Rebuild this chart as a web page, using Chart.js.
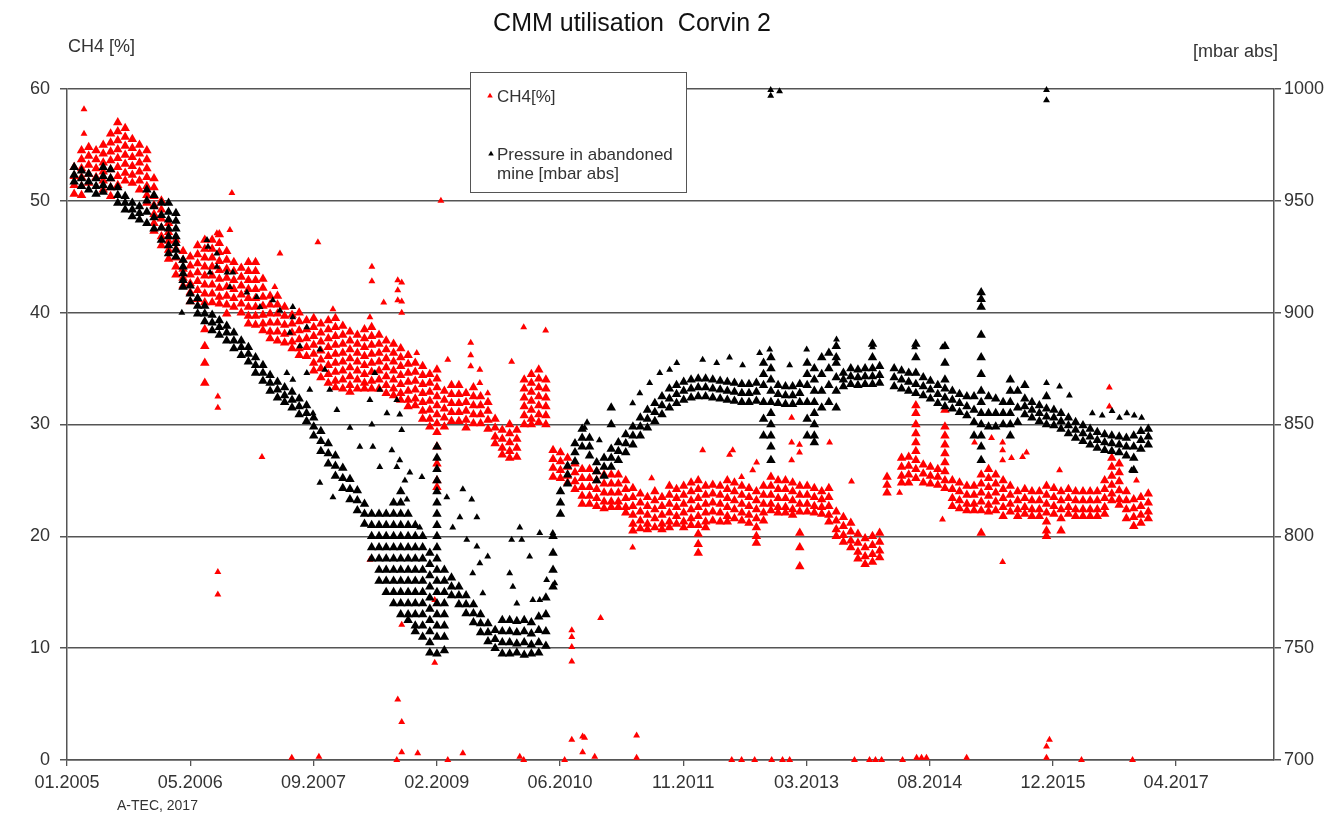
<!DOCTYPE html>
<html>
<head>
<meta charset="utf-8">
<script src="https://cdn.jsdelivr.net/npm/chart.js@4"></script>
<style>
  html, body { margin: 0; padding: 0; background: #fff; }
  #wrap { width: 1326px; height: 826px; position: relative; }
</style>
</head>
<body>
<div id="wrap"><canvas id="chart"></canvas></div>
<script>
// CMM utilisation Corvin 2 — CH4 content and mine pressure.
// x values are days counted from 01.01.2005; each column entry is [day, value, value, ...]

const TITLE = 'CMM utilisation  Corvin 2';
const LEFT_AXIS_TITLE = 'CH4 [%]';
const RIGHT_AXIS_TITLE = '[mbar abs]';
const FOOTER = 'A-TEC, 2017';
const CH4_LABEL = 'CH4[%]';
const PRESSURE_LABEL = ['Pressure in abandoned', 'mine [mbar abs]'];

const xTickDays = [0, 500, 1000, 1500, 2000, 2500, 3000, 3500, 4000, 4500];
const xMaxDay = 4897;
const ch4Ticks = [0, 10, 20, 30, 40, 50, 60];
const pressureTicks = [700, 750, 800, 850, 900, 950, 1000];

// CH4 [%] band, 2005 - early 2009
const ch4Columns2005 = [
  [29, 53, 52.2, 51.4, 50.6], [59, 54.5, 53.7, 52.9, 52.1, 51.3, 50.5], [88, 54.8, 54, 53.2, 52.4, 51.6],
  [118, 54.5, 53.7, 52.9, 52.1], [147, 55, 54.2, 53.4, 52.6, 51.8, 51],
  [177, 56, 55.2, 54.4, 53.6, 52.8, 52, 51.2, 50.4], [206, 57, 56.2, 55.4, 54.6, 53.8, 53, 52.2, 51.4],
  [236, 56.5, 55.7, 54.9, 54.1, 53.3, 52.5, 51.8], [265, 55.5, 54.7, 53.9, 53.1, 52.3, 51.6],
  [294, 55, 54.2, 53.4, 52.6, 51.8, 51], [324, 54.5, 53.7, 52.9, 52.1, 51.3, 50.5, 49.8],
  [353, 52, 51.2, 50.4, 49.6, 48.8, 48, 47.3], [383, 50, 49.2, 48.4, 47.6, 46.8, 46],
  [412, 48, 47.2, 46.4, 45.6, 44.8], [442, 46.5, 45.7, 44.9, 44.1, 43.4], [471, 45.5, 44.7, 43.9, 43.1, 42.4],
  [500, 45, 44.2, 43.4, 42.6, 41.8, 41], [530, 46, 45.2, 44.4, 43.6, 42.8, 42, 41.2],
  [559, 46.5, 45.7, 44.9, 44.1, 43.3, 42.5, 41.7, 40.9, 38.5, 37, 35.5, 33.7],
  [589, 46.5, 45.7, 44.9, 44.1, 43.3, 42.5, 41.7, 40.9], [618, 47, 46.2, 45.4, 44.6, 43.8, 43, 42.2, 41.4, 40.8],
  [648, 45.5, 44.7, 43.9, 43.1, 42.3, 41.5, 40.7, 39.9], [677, 44.5, 43.7, 42.9, 42.1, 41.3, 40.5],
  [707, 44, 43.2, 42.4, 41.6, 40.8, 40], [736, 44.5, 43.7, 42.9, 42.1, 41.3, 40.5, 39.7, 39],
  [765, 44.5, 43.7, 42.9, 42.1, 41.3, 40.5, 39.7, 38.9], [795, 43, 42.2, 41.4, 40.6, 39.8, 39, 38.4],
  [824, 41.5, 40.7, 39.9, 39.1, 38.3, 37.7], [854, 41.5, 40.7, 39.9, 39.1, 38.3, 37.5],
  [883, 40.5, 39.7, 38.9, 38.1, 37.3], [913, 39.8, 39, 38.2, 37.4, 36.8], [942, 40, 39.2, 38.4, 37.6, 36.8, 36.2],
  [972, 39.3, 38.5, 37.7, 36.9, 36.1], [1001, 39.5, 38.7, 37.9, 37.1, 36.3, 35.5, 34.8],
  [1030, 39, 38.2, 37.4, 36.6, 35.8, 35, 34.2], [1060, 39.3, 38.5, 37.7, 36.9, 36.1, 35.3, 34.5, 33.7],
  [1089, 39.5, 38.7, 37.9, 37.1, 36.3, 35.5, 34.7, 33.9, 33.3], [1119, 38.8, 38, 37.2, 36.4, 35.6, 34.8, 34, 33.2],
  [1148, 38.3, 37.5, 36.7, 35.9, 35.1, 34.3, 33.5, 32.9], [1178, 38, 37.2, 36.4, 35.6, 34.8, 34, 33.2],
  [1207, 38.5, 37.7, 36.9, 36.1, 35.3, 34.5, 33.7, 33.2], [1236, 38.7, 37.9, 37.1, 36.3, 35.5, 34.7, 33.9, 33.2],
  [1266, 38, 37.2, 36.4, 35.6, 34.8, 34, 33.2], [1295, 37.5, 36.7, 35.9, 35.1, 34.3, 33.5, 32.8],
  [1325, 37.2, 36.4, 35.6, 34.8, 34, 33.2, 32.6], [1354, 36.8, 36, 35.2, 34.4, 33.6, 32.8, 32.2],
  [1384, 36.2, 35.4, 34.6, 33.8, 33, 32.2, 31.6], [1413, 35.5, 34.7, 33.9, 33.1, 32.3, 31.7],
  [1443, 35.2, 34.4, 33.6, 32.8, 32, 31.2, 30.5], [1472, 34.5, 33.7, 32.9, 32.1, 31.3, 30.5, 29.8],
  [1501, 34.9, 34.1, 33.3, 32.5, 31.7, 30.9, 30.1, 29.3, 28, 26.5, 25, 24.4]
];

// CH4 [%] band, 2009 - early 2013
const ch4Columns2009 = [
  [1531, 33, 32.2, 31.4, 30.6, 29.8], [1560, 33.5, 32.7, 31.9, 31.1, 30.3], [1590, 33.5, 32.7, 31.9, 31.1, 30.3],
  [1619, 32.8, 32, 31.2, 30.4, 29.7], [1649, 33.3, 32.5, 31.7, 30.9, 30.1], [1678, 32.5, 31.7, 30.9, 30.1],
  [1708, 32, 31.2, 30.4, 29.6], [1737, 30.5, 29.7, 28.9, 28.3], [1766, 29.5, 28.7, 27.9, 27.3],
  [1796, 30, 29.2, 28.4, 27.6, 27], [1825, 29.5, 28.7, 27.9, 27.1], [1855, 34, 33.2, 32.4, 31.6, 30.8, 30],
  [1884, 34.5, 33.7, 32.9, 32.1, 31.3, 30.5, 30], [1914, 34.9, 34.1, 33.3, 32.5, 31.7, 30.9, 30.2],
  [1943, 34, 33.2, 32.4, 31.6, 30.8, 30], [1972, 27.7, 26.9, 26.1, 25.3], [2002, 27.5, 26.7, 25.9, 25.2],
  [2031, 27, 26.2, 25.4, 24.8], [2061, 26.5, 25.7, 24.9, 24.2], [2090, 26, 25.2, 24.4, 23.6, 22.9],
  [2120, 26, 25.2, 24.4, 23.6, 22.9], [2149, 25.8, 25, 24.2, 23.4, 22.7], [2179, 25.5, 24.7, 23.9, 23.1, 22.5],
  [2208, 25.5, 24.7, 23.9, 23.1, 22.6], [2237, 25.5, 24.7, 23.9, 23.1, 22.6], [2267, 25, 24.2, 23.4, 22.6, 22.1],
  [2296, 24.3, 23.5, 22.7, 21.9, 21.1, 20.5], [2326, 23.8, 23, 22.2, 21.4, 20.7], [2355, 23.5, 22.7, 21.9, 21.1, 20.6],
  [2385, 24, 23.2, 22.4, 21.6, 20.8], [2414, 23.5, 22.7, 21.9, 21.1, 20.6], [2444, 24.5, 23.7, 22.9, 22.1, 21.3, 20.8],
  [2473, 24.2, 23.4, 22.6, 21.8, 21.1], [2502, 24.5, 23.7, 22.9, 22.1, 21.3, 20.8], [2532, 24.8, 24, 23.2, 22.4, 21.6, 21],
  [2561, 25, 24.2, 23.4, 22.6, 21.8, 21, 20.2, 19.3, 18.5], [2591, 24.5, 23.7, 22.9, 22.1, 21.3, 20.8],
  [2620, 24.6, 23.8, 23, 22.2, 21.4], [2650, 24.5, 23.7, 22.9, 22.1, 21.3], [2679, 25, 24.2, 23.4, 22.6, 21.8, 21.3],
  [2708, 24.8, 24, 23.2, 22.4, 21.6], [2738, 24.5, 23.7, 22.9, 22.1, 21.4], [2767, 24.3, 23.5, 22.7, 21.9, 21.2],
  [2797, 24, 23.2, 22.4, 21.6, 20.8, 20, 19.4], [2826, 24.5, 23.7, 22.9, 22.1, 21.4], [2856, 25.3, 24.5, 23.7, 22.9, 22.3],
  [2885, 25, 24.2, 23.4, 22.6, 22.1], [2915, 25, 24.2, 23.4, 22.6, 22.1], [2944, 24.8, 24, 23.2, 22.4, 21.9]
];

// CH4 [%] band, 2013 - 2017
const ch4Columns2013 = [
  [2973, 24.5, 23.7, 22.9, 22.2, 20.3, 19, 17.3], [3003, 24.5, 23.7, 22.9, 22.2], [3032, 24.3, 23.5, 22.7, 22.1],
  [3062, 24, 23.3, 22.6, 22], [3091, 24.3, 23.5, 22.7, 21.9, 21.3], [3121, 22.2, 21.4, 20.6, 20],
  [3150, 21.7, 20.9, 20.1, 19.5], [3180, 21.2, 20.4, 19.6, 19], [3209, 20.2, 19.4, 18.6, 18],
  [3238, 19.8, 19, 18.2, 17.5], [3268, 20, 19.2, 18.4, 17.7], [3297, 20.3, 19.5, 18.7, 18.1],
  [3327, 25.3, 24.6, 23.9], [3386, 27, 26.2, 25.4, 24.8], [3415, 27.1, 26.3, 25.5, 24.8],
  [3444, 31.7, 31, 30, 29.2, 28.4, 27.6, 26.8, 26, 25.2], [3474, 26.4, 25.6, 24.8], [3503, 26.2, 25.4, 24.7],
  [3533, 26, 25.3, 24.6], [3562, 31.3, 29.8, 29, 28.2, 27.4, 26.6, 25.8, 25, 24.3], [3592, 25, 24.2, 23.4, 22.7],
  [3621, 24.8, 24, 23.2, 22.5], [3651, 24.5, 23.7, 22.9, 22.3], [3680, 24.5, 23.7, 22.9, 22.3],
  [3709, 25.5, 24.7, 23.9, 23.1, 22.3, 20.3], [3739, 26, 25.2, 24.4, 23.6, 22.8, 22.2], [3768, 25.5, 24.7, 23.9, 23.1, 22.3],
  [3798, 25, 24.2, 23.4, 22.6, 21.8], [3827, 24.5, 23.7, 22.9, 22.2], [3857, 24, 23.2, 22.4, 21.8],
  [3886, 24.2, 23.4, 22.6, 22], [3915, 24, 23.2, 22.4, 21.8], [3945, 24, 23.2, 22.4, 21.8],
  [3974, 24.5, 23.7, 22.9, 22.1, 21.3, 20.5, 20], [4004, 24.3, 23.5, 22.7, 22], [4033, 24, 23.2, 22.4, 21.6, 20.5],
  [4063, 24.2, 23.4, 22.6, 22], [4092, 24, 23.2, 22.4, 21.8], [4122, 24, 23.2, 22.4, 21.8],
  [4151, 24, 23.2, 22.4, 21.8], [4180, 24, 23.2, 22.4, 21.8], [4210, 25, 24.2, 23.4, 22.6, 22],
  [4239, 27, 26.2, 25.4, 24.6, 23.8, 23.2], [4269, 26.5, 25.7, 24.9, 24.1, 23.3, 22.8], [4298, 24, 23.2, 22.4, 21.6],
  [4328, 23.3, 22.5, 21.7, 20.9], [4357, 23.5, 22.7, 21.9, 21.2], [4387, 23.8, 23, 22.2, 21.6]
];

// isolated CH4 readings (spikes, drop-outs, zero readings)
const ch4Outliers = [
  [69, 58.2], [69, 56], [669, 50.7], [661, 47.4], [608, 47.1], [612, 32.5], [612, 31.5],
  [612, 16.8], [612, 14.8], [791, 27.1], [843, 42.3], [864, 45.3], [912, 0.2], [1018, 46.3],
  [1022, 0.3], [1079, 40.3], [1229, 39.6], [1229, 17.9], [1237, 44.1], [1237, 42.8], [1285, 40.9],
  [1338, 0], [1342, 42.9], [1342, 42], [1342, 41.1], [1342, 5.4], [1358, 42.7], [1358, 41],
  [1358, 40], [1358, 12.1], [1358, 3.4], [1358, 0.7], [1419, 36.4], [1423, 0.6], [1492, 14.3],
  [1492, 8.7], [1517, 50], [1545, 35.8], [1545, 0], [1606, 0.6], [1638, 37.3], [1638, 36.2],
  [1638, 35.2], [1675, 34.9], [1675, 33.7], [1707, 32.8], [1804, 35.6], [1837, 0.3], [1853, 38.7],
  [1853, 0], [1942, 38.4], [2019, 0], [2048, 11.6], [2048, 11], [2048, 10.1], [2048, 8.8],
  [2048, 1.8], [2092, 2.1], [2092, 0.7], [2100, 2], [2141, 0.3], [2165, 12.7], [2295, 19],
  [2311, 2.2], [2311, 0.2], [2372, 25.2], [2579, 27.7], [2688, 27.3], [2697, 0], [2701, 27.7],
  [2737, 25.3], [2737, 0], [2782, 25.9], [2790, 0], [2798, 26.6], [2859, 0], [2903, 0], [2932, 0],
  [2940, 30.6], [2940, 28.4], [2940, 26.8], [2972, 28.2], [2972, 27.5], [3094, 28.4], [3183, 24.9],
  [3195, 0], [3256, 0], [3280, 0], [3305, 0], [3378, 23.9], [3390, 0], [3447, 0.2], [3467, 0.2],
  [3487, 0.2], [3552, 21.5], [3650, 0.2], [3682, 28.4], [3751, 28.8], [3796, 28.4], [3796, 27.7],
  [3796, 26.8], [3796, 17.7], [3832, 27], [3877, 27.1], [3893, 27.5], [3974, 0.2], [3974, 1.2],
  [3986, 1.8], [4027, 25.9], [4116, 0], [4229, 33.3], [4229, 31.6], [4323, 0], [4339, 25]
];

// pressure in abandoned mine [mbar abs], 2005 - early 2009
const pressureColumns2005 = [
  [29, 965, 961.5, 958.5], [59, 963.5, 960, 956.5], [88, 962, 958.5, 955], [118, 960, 956.5, 953],
  [147, 965, 961, 957, 954], [177, 964, 960, 956], [206, 956, 952.5, 949], [236, 952, 949, 946],
  [265, 949, 946, 943], [294, 947.5, 944.5, 941.5], [324, 955, 950, 945, 940],
  [353, 952.5, 947.5, 942.5, 937.5], [383, 949, 943.5, 938, 932.5], [412, 949, 945, 941.5, 937.5, 934, 930, 926.5],
  [442, 944.5, 941, 937.5, 934, 931, 928, 925], [471, 923.5, 920.5, 917.5, 914.5, 911.5], [500, 912, 908.5, 905],
  [530, 906.5, 903, 899.5], [559, 903, 899.5, 896], [589, 899, 895.5, 892], [618, 896.5, 893.5, 890],
  [648, 894, 891, 887.5], [677, 891, 887.5, 884], [707, 887.5, 884.5, 881], [736, 884.5, 881.5, 878],
  [765, 880, 876.5, 873], [795, 876.5, 873, 869.5], [824, 872, 868.5, 865], [854, 869, 865.5, 862],
  [883, 866.5, 863, 860], [913, 864.5, 861, 857.5], [942, 861.5, 858, 854.5], [972, 858.5, 855, 851.5],
  [1001, 853, 849, 845], [1030, 847, 842.5, 838], [1060, 841.5, 837, 832.5], [1089, 836, 831.5, 827],
  [1119, 830.5, 826, 821.5], [1148, 825.5, 821, 816.5], [1178, 820.5, 816, 811.5],
  [1207, 814.5, 810, 805.5], [1236, 810, 805, 800, 795, 790], [1266, 810, 805, 800, 795, 790, 785, 780],
  [1295, 810, 805, 800, 795, 790, 785, 780, 775], [1325, 815, 810, 805, 800, 795, 790, 785, 780, 775, 770],
  [1354, 820, 815, 810, 805, 800, 795, 790, 785, 780, 775, 770, 765],
  [1384, 810, 805, 800, 795, 790, 785, 780, 775, 770, 765, 762.5],
  [1413, 805, 800, 795, 790, 785, 780, 775, 770, 765, 760, 757.5],
  [1443, 800, 795, 790, 785, 780, 775, 770, 765, 760, 755],
  [1472, 792.5, 787.5, 782.5, 777.5, 772.5, 767.5, 762.5, 757.5, 752.5, 748],
  [1501, 840, 835, 830, 825, 820, 815, 810, 805, 800, 795, 790, 785, 780, 775, 770, 765, 760, 755, 747.5]
];

// pressure in abandoned mine [mbar abs], 2009 - early 2013
const pressureColumns2009 = [
  [1531, 785, 780, 775, 770, 765, 760, 755, 749], [1560, 781.5, 777.5, 773.5], [1590, 777.5, 773.5, 769.5],
  [1619, 773.5, 769.5, 765.5], [1649, 769.5, 765.5, 761.5], [1678, 765, 761, 757], [1708, 761, 757, 753],
  [1737, 758, 754, 750], [1766, 762.5, 757.5, 752.5, 747.5], [1796, 762.5, 757.5, 752.5, 747.5],
  [1825, 762, 757, 752, 748], [1855, 762.5, 757.5, 752.5, 747], [1884, 761.5, 756.5, 751.5, 747.5],
  [1914, 764, 758, 752.5, 748], [1943, 772.5, 765, 757.5, 751], [1972, 800, 792.5, 785, 777.5],
  [2002, 820, 815, 810], [2031, 831.5, 827.5, 823.5], [2061, 841.5, 837.5, 833.5], [2090, 848, 844, 840],
  [2120, 844, 840, 836], [2149, 833, 829, 825], [2179, 835, 831, 827], [2208, 857.5, 850, 839, 835, 831],
  [2237, 842, 838, 834], [2267, 845.5, 841.5, 837.5], [2296, 849, 845, 841], [2326, 853, 849, 845],
  [2355, 856.5, 852.5, 848.5], [2385, 859.5, 855.5, 851.5], [2414, 862.5, 858.5, 854.5],
  [2444, 866, 861.5, 857.5], [2473, 867.5, 863.5, 859.5], [2502, 869, 865, 861], [2532, 870, 866, 862],
  [2561, 870.5, 866.5, 862.5], [2591, 870.5, 866.5, 862.5], [2620, 870, 866, 862],
  [2650, 869.5, 865.5, 861.5], [2679, 869, 865, 861], [2708, 868.5, 864.5, 860.5], [2738, 868, 864, 860],
  [2767, 868, 864, 860], [2797, 868.5, 864.5, 860.5], [2826, 877.5, 872.5, 867.5, 860, 852.5, 845],
  [2856, 880, 875, 870, 865, 860, 855, 850, 845, 840, 834], [2885, 867.5, 863.5, 859.5], [2915, 867, 863, 859],
  [2944, 867, 863, 859]
];

// pressure in abandoned mine [mbar abs], 2013 - 2017
const pressureColumns2013 = [
  [2973, 868, 864, 860], [3003, 877.5, 872.5, 867.5, 860, 852.5, 845], [3032, 875, 870, 865, 860, 855, 850, 845, 842],
  [3062, 880, 872.5, 865, 857.5], [3091, 882, 875, 867.5, 860], [3121, 885, 880, 877.5, 871, 865, 857.5],
  [3150, 873, 870, 867], [3180, 875, 871.5, 868], [3209, 874.5, 871, 867.5], [3238, 875, 871.5, 868],
  [3268, 886, 880, 875, 871.5, 868], [3297, 876, 872, 868.5], [3356, 875, 871, 867], [3386, 874, 870, 866],
  [3415, 873, 869, 865], [3444, 886, 880, 873, 868, 864], [3474, 871, 867, 863],
  [3503, 869.5, 865.5, 861.5], [3533, 867.5, 863.5, 859.5], [3562, 885, 877.5, 870, 866, 862, 858],
  [3592, 865, 861, 857], [3621, 863.5, 859.5, 855.5], [3651, 862.5, 858, 854],
  [3680, 862.5, 856.5, 851, 845], [3709, 909, 906, 902.5, 890, 880, 872.5, 865, 860, 855, 850, 845, 840, 834],
  [3739, 862.5, 855, 849], [3768, 861.5, 855, 849], [3798, 860, 855, 850], [3827, 870, 865, 860, 855, 850, 845],
  [3857, 865, 857.5, 851], [3886, 867.5, 861.5, 858, 854.5], [3915, 860, 856.5, 853],
  [3945, 858.5, 855, 851.5], [3974, 862.5, 857, 853.5, 850], [4004, 856.5, 853, 849.5],
  [4033, 855, 851.5, 848], [4063, 853, 849.5, 846], [4092, 851, 847.5, 844], [4122, 849.5, 846, 842.5],
  [4151, 848, 844.5, 841], [4180, 846.5, 843, 839.5], [4210, 845.5, 842, 838.5], [4239, 845, 841.5, 838],
  [4269, 844.5, 841, 837.5], [4298, 844, 840, 836], [4328, 845, 840, 835, 829.5], [4357, 847, 843, 839],
  [4387, 848, 844.5, 841]
];

// isolated pressure readings (scatter above the trend, spikes, readings near 1000)
const pressureOutliers = [
  [466, 900], [568, 932.5], [572, 929.5], [580, 918], [608, 926.5], [608, 920.5], [649, 918],
  [661, 911.5], [673, 918], [730, 909], [770, 907], [783, 902.5], [835, 905.5], [864, 901],
  [892, 873], [904, 891], [916, 902.5], [916, 898], [916, 870], [945, 885], [973, 893.5], [973, 873],
  [985, 865.5], [998, 855], [1026, 883.5], [1026, 824], [1046, 874.5], [1066, 865.5], [1079, 817.5],
  [1095, 856.5], [1148, 848.5], [1188, 840], [1229, 861], [1237, 850], [1241, 840], [1249, 873],
  [1269, 865.5], [1269, 831], [1298, 855], [1318, 838.5], [1338, 861], [1338, 831], [1350, 854.5],
  [1350, 834], [1358, 847.5], [1371, 825], [1379, 816.5], [1391, 828.5], [1431, 804], [1440, 826.5],
  [1541, 817.5], [1565, 804], [1594, 808.5], [1606, 821], [1622, 798.5], [1642, 816.5], [1646, 783.5],
  [1663, 808.5], [1663, 795.5], [1675, 788], [1687, 774.5], [1707, 791], [1796, 783.5], [1804, 798.5],
  [1809, 777.5], [1825, 770], [1837, 804], [1845, 798.5], [1877, 791], [1890, 771.5], [1918, 801.5],
  [1918, 771.5], [1946, 780.5], [1971, 801.5], [1979, 779], [2100, 848.5], [2110, 851], [2160, 843],
  [2295, 859.5], [2324, 864], [2364, 868.5], [2405, 873], [2445, 874.5], [2474, 877.5], [2579, 879],
  [2636, 877.5], [2688, 880], [2741, 876.5], [2810, 882], [2851, 883.5], [2855, 999.5], [2855, 997],
  [2891, 999], [2932, 876.5], [3001, 883.5], [3122, 888], [3268, 884.5], [3439, 884.5], [3552, 884.5],
  [3974, 999.5], [3974, 995], [3974, 868.5], [4027, 867], [4067, 863], [4160, 855], [4200, 854],
  [4240, 856], [4270, 853], [4300, 855], [4319, 829.5], [4330, 854], [4360, 853]
];

const FONT = '"Liberation Sans", Arial, Helvetica, sans-serif';
const AXIS_COLOR = '#555555';
const TEXT_COLOR = '#333333';
const RED = '#ff0000';
const BLACK = '#000000';

// turn [day, v1, v2, ...] entries into scatter points
function toPoints(...groups) {
  const pts = [];
  groups.forEach(cols => cols.forEach(([day, ...vals]) => {
    vals.forEach(v => pts.push({ x: day, y: v }));
  }));
  return pts;
}

function dayLabel(day) {
  const d = new Date(Date.UTC(2005, 0, 1) + day * 86400000);
  const mm = String(d.getUTCMonth() + 1).padStart(2, '0');
  return mm + '.' + d.getUTCFullYear();
}

function markerSet(label, data, axis, color, radius, order) {
  return {
    label, data, yAxisID: axis,
    pointStyle: 'triangle',
    pointRadius: radius,
    pointHoverRadius: radius,
    backgroundColor: color,
    borderWidth: 0,
    clip: false,
    order,
  };
}

// title, axis captions, footer and the boxed legend
const decorations = {
  id: 'decorations',
  afterDraw(chart) {
    const ctx = chart.ctx;
    ctx.save();
    ctx.fillStyle = '#111';
    ctx.textBaseline = 'alphabetic';
    ctx.font = '25px ' + FONT;
    ctx.textAlign = 'center';
    ctx.fillText(TITLE, 632, 31);

    ctx.fillStyle = TEXT_COLOR;
    ctx.font = '18px ' + FONT;
    ctx.textAlign = 'left';
    ctx.fillText(LEFT_AXIS_TITLE, 68, 52);
    ctx.textAlign = 'right';
    ctx.fillText(RIGHT_AXIS_TITLE, 1278, 57);

    ctx.font = '14px ' + FONT;
    ctx.textAlign = 'left';
    ctx.fillText(FOOTER, 117, 810);

    // legend box
    ctx.fillStyle = '#fff';
    ctx.fillRect(470, 72, 216, 120);
    ctx.strokeStyle = '#555';
    ctx.lineWidth = 1;
    ctx.strokeRect(470.5, 72.5, 216, 120);

    const tri = (x, y, r, color) => {
      ctx.fillStyle = color;
      ctx.beginPath();
      ctx.moveTo(x, y - r);
      ctx.lineTo(x + r * 0.866, y + r * 0.5);
      ctx.lineTo(x - r * 0.866, y + r * 0.5);
      ctx.closePath();
      ctx.fill();
    };
    tri(490, 96, 3.2, RED);
    tri(491, 154, 3.2, BLACK);

    ctx.fillStyle = TEXT_COLOR;
    ctx.font = '17px ' + FONT;
    ctx.textAlign = 'left';
    ctx.fillText(CH4_LABEL, 497, 102);
    ctx.fillText(PRESSURE_LABEL[0], 497, 160);
    ctx.fillText(PRESSURE_LABEL[1], 497, 179);
    ctx.restore();
  }
};

Chart.defaults.font.family = FONT;
Chart.defaults.color = TEXT_COLOR;

new Chart(document.getElementById('chart'), {
  type: 'scatter',
  data: {
    datasets: [
      markerSet(CH4_LABEL, toPoints(ch4Columns2005, ch4Columns2009, ch4Columns2013), 'y', RED, 5.5, 4),
      markerSet(CH4_LABEL, toPoints(ch4Outliers), 'y', RED, 4, 3),
      markerSet(PRESSURE_LABEL.join(' '), toPoints(pressureColumns2005, pressureColumns2009, pressureColumns2013), 'y1', BLACK, 5.5, 2),
      markerSet(PRESSURE_LABEL.join(' '), toPoints(pressureOutliers), 'y1', BLACK, 4, 1),
    ],
  },
  options: {
    responsive: true,
    maintainAspectRatio: false,
    animation: false,
    events: [],
    layout: { padding: { top: 89, right: 0, bottom: 0, left: 0 } },
    plugins: {
      legend: { display: false },
      tooltip: { enabled: false },
      title: { display: false },
    },
    scales: {
      x: {
        type: 'linear',
        min: 0,
        max: xMaxDay,
        afterBuildTicks: (scale) => { scale.ticks = xTickDays.map(v => ({ value: v })); },
        afterFit: (scale) => { scale.height = 66; },
        grid: { drawOnChartArea: false, drawTicks: true, tickLength: 6, color: AXIS_COLOR, lineWidth: 1.3 },
        border: { display: true, color: AXIS_COLOR, width: 1.5 },
        ticks: {
          callback: (v) => dayLabel(v),
          font: { size: 18 },
          color: TEXT_COLOR,
          padding: 6,
          maxRotation: 0,
          autoSkip: false,
        },
      },
      y: {
        position: 'left',
        min: 0,
        max: 60,
        afterBuildTicks: (scale) => { scale.ticks = ch4Ticks.map(v => ({ value: v })); },
        afterFit: (scale) => { scale.width = 67; },
        grid: { color: AXIS_COLOR, lineWidth: 1.5, tickLength: 7 },
        border: { display: true, color: AXIS_COLOR, width: 1.5 },
        ticks: { font: { size: 18 }, color: TEXT_COLOR, padding: 10 },
      },
      y1: {
        position: 'right',
        min: 700,
        max: 1000,
        afterBuildTicks: (scale) => { scale.ticks = pressureTicks.map(v => ({ value: v })); },
        afterFit: (scale) => { scale.width = 52; },
        grid: { drawOnChartArea: false, color: AXIS_COLOR, lineWidth: 1.5, tickLength: 7 },
        border: { display: true, color: AXIS_COLOR, width: 1.5 },
        ticks: { font: { size: 18 }, color: TEXT_COLOR, padding: 3, callback: (v) => String(v) },
      },
    },
  },
  plugins: [decorations],
});
</script>
</body>
</html>
